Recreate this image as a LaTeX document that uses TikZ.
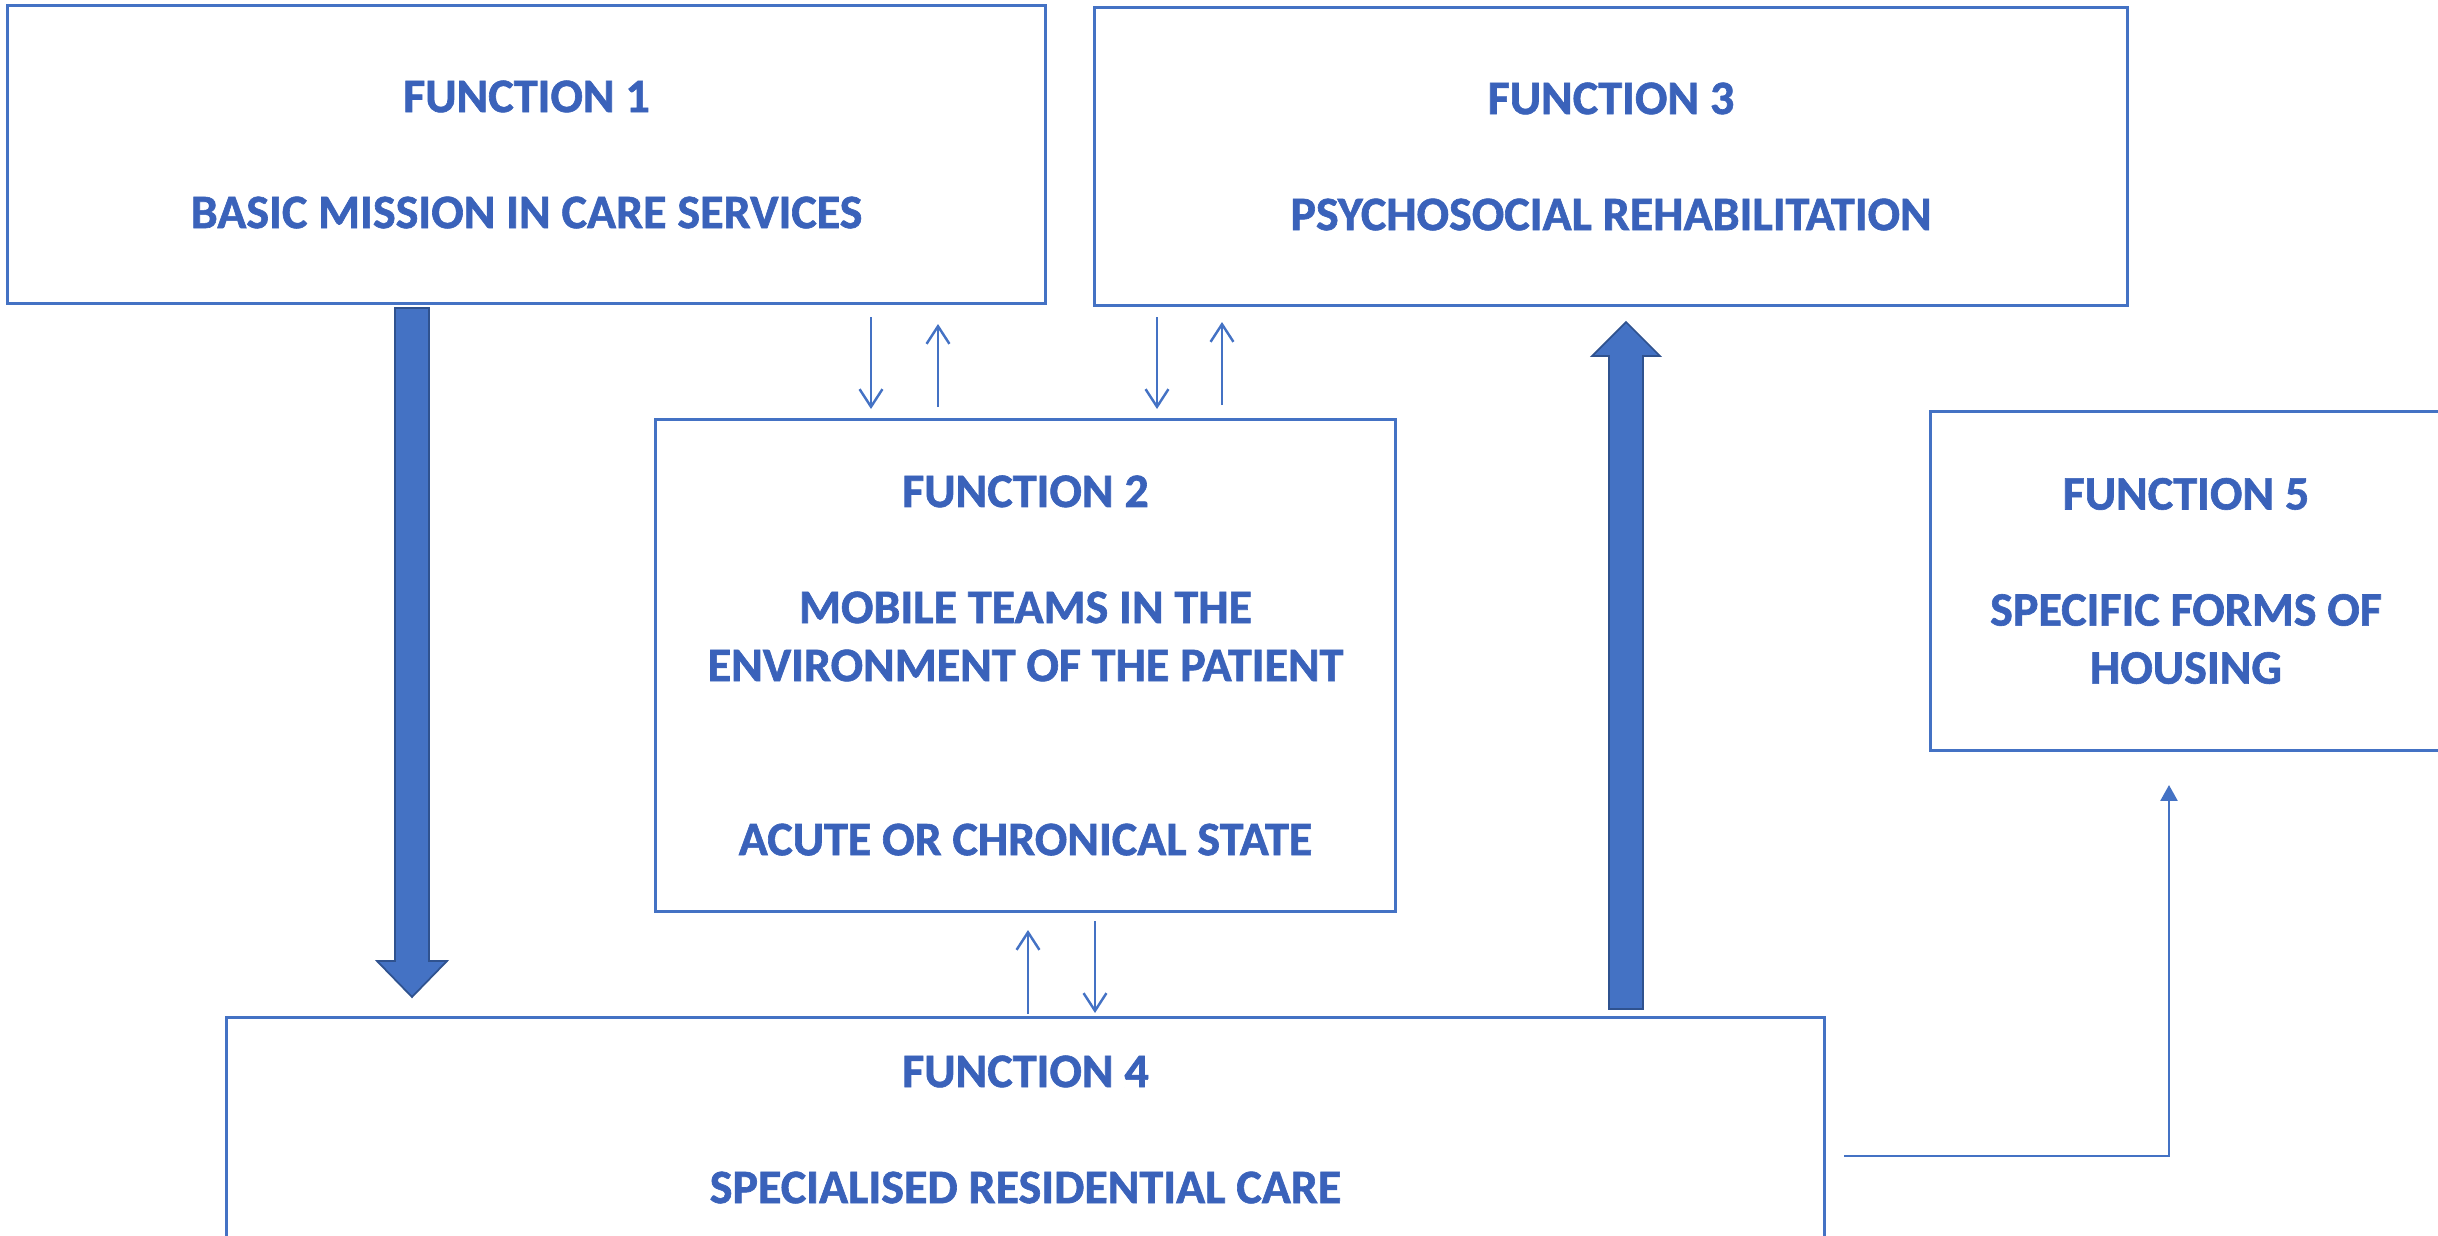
\documentclass[tikz,border=0pt]{standalone}
\usepackage{fontspec}
\setmainfont{Carlito}[BoldFeatures={FakeBold=1.3}]
\usetikzlibrary{arrows.meta,calc}
\definecolor{boxblue}{RGB}{68,114,196}
\definecolor{darkblue}{RGB}{47,82,143}
\definecolor{txtblue}{RGB}{58,98,186}
\begin{document}
\begin{tikzpicture}[x=0.01cm,y=-0.01cm,
  fbox/.style={draw=boxblue,line width=0.85pt,inner sep=0pt,align=center,
    font=\fontsize{13.66pt}{16.5pt}\selectfont\bfseries,text=txtblue},
  thinarr/.style={draw=boxblue,line width=0.7pt,-{Straight Barb[length=5pt,width=6.5pt]}},
  elbowarr/.style={draw=boxblue,line width=0.7pt,-{Triangle[length=4.5pt,width=4.8pt]}},
  bigarr/.style={fill=boxblue,draw=darkblue,line width=0.5pt,line join=miter}]
\useasboundingbox (0,0) rectangle (2438,1236);
\clip (0,0) rectangle (2438,1236);

\node[fbox,minimum width=10.37cm,minimum height=2.97cm] (F1) at (526.5,154.5)
  {FUNCTION 1\\[0.58cm]BASIC MISSION IN CARE SERVICES};
\node[fbox,minimum width=10.32cm,minimum height=2.97cm] (F3) at (1611,156.5)
  {FUNCTION 3\\[0.58cm]PSYCHOSOCIAL REHABILITATION};
\node[fbox,minimum width=7.39cm,minimum height=4.91cm] (F2) at (1025.5,665.5)
  {FUNCTION 2\\[0.58cm]MOBILE TEAMS IN THE\\ENVIRONMENT OF THE PATIENT\\[1.16cm]ACUTE OR CHRONICAL STATE};
\node[fbox,minimum width=5.10cm,minimum height=3.38cm] (F5) at (2186,581)
  {FUNCTION 5\\[0.58cm]SPECIFIC FORMS OF\\HOUSING};
\node[fbox,minimum width=15.97cm,minimum height=2.23cm] (F4) at (1025.5,1129.5)
  {FUNCTION 4\\[0.58cm]SPECIALISED RESIDENTIAL CARE};

% big block arrows
\draw[bigarr] (395,308) -- (429,308) -- (429,961) -- (447,961) -- (412,997)
  -- (377,961) -- (395,961) -- cycle;
\draw[bigarr] (1609,1009) -- (1643,1009) -- (1643,356) -- (1660,356) -- (1626,322)
  -- (1592,356) -- (1609,356) -- cycle;

% thin arrows F1 <-> F2
\coordinate (a1s) at (871,317);  \coordinate (a1e) at (871,409);
\coordinate (a2s) at (938,407);  \coordinate (a2e) at (938,324);
\draw[thinarr] (a1s) -- (a1e);
\draw[thinarr] (a2s) -- (a2e);
% thin arrows F3 <-> F2
\coordinate (b1s) at (1157,317); \coordinate (b1e) at (1157,409);
\coordinate (b2s) at (1222,405); \coordinate (b2e) at (1222,322);
\draw[thinarr] (b1s) -- (b1e);
\draw[thinarr] (b2s) -- (b2e);
% thin arrows F4 <-> F2
\coordinate (c1s) at (1028,1014); \coordinate (c1e) at (1028,930);
\coordinate (c2s) at (1095,921);  \coordinate (c2e) at (1095,1013);
\draw[thinarr] (c1s) -- (c1e);
\draw[thinarr] (c2s) -- (c2e);
% elbow F4 -> F5
\coordinate (e0) at (1844,1156);
\coordinate (e1) at (2169,785);
\draw[elbowarr] (e0) -| (e1);
\end{tikzpicture}
\end{document}
